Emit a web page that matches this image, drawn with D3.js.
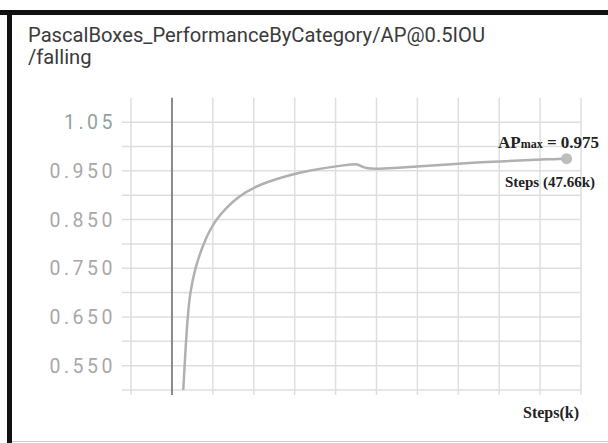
<!DOCTYPE html>
<html><head><meta charset="utf-8">
<script src="https://cdn.jsdelivr.net/npm/d3@7"></script>
<style>html,body{margin:0;padding:0;background:#fff;overflow:hidden;width:608px;height:443px;}svg{display:block;}</style>
</head><body>
<script>
const titleLines = ["PascalBoxes_PerformanceByCategory/AP@0.5IOU", "/falling"];
const stepsK = [1.36, 1.69, 1.90, 2.17, 2.78, 3.78, 5.11, 8.01, 10.83, 14.30, 16.66, 19.48, 21.89, 22.50, 23.30, 26.32, 32.36, 38.40, 46.45, 47.66];
const apValues = [0.500, 0.599, 0.650, 0.699, 0.750, 0.800, 0.849, 0.900, 0.924, 0.942, 0.951, 0.9586, 0.9635, 0.9645, 0.953, 0.955, 0.962, 0.9687, 0.9745, 0.975];
const yTickValues = [1.05, 0.95, 0.85, 0.75, 0.65, 0.55];
const yTickLabels = ["1.05", "0.950", "0.850", "0.750", "0.650", "0.550"];
const yGridValues = [0.5, 0.55, 0.6, 0.65, 0.7, 0.75, 0.8, 0.85, 0.9, 0.95, 1.0, 1.05];
const xGridValues = [-4.95, 0, 4.94, 9.88, 14.82, 19.76, 24.7, 29.64, 34.58, 39.52, 44.46, 49.4];
const maxStep = 47.66, maxAP = 0.975;

const W = 608, H = 443;
const svg = d3.select("body").append("svg").attr("width", W).attr("height", H);

const x = d3.scaleLinear().domain([-4.95, 49.4]).range([131, 581]);
const y = d3.scaleLinear().domain([0.5, 1.1]).range([390, 97.8]);

// frame
svg.append("rect").attr("x", 0).attr("y", 10).attr("width", W).attr("height", 5).attr("fill", "#111");
svg.append("rect").attr("x", 7).attr("y", 10).attr("width", 5).attr("height", H - 10).attr("fill", "#111");
svg.append("line").attr("x1", 12).attr("x2", W).attr("y1", 441.5).attr("y2", 441.5).attr("stroke", "#ccc").attr("stroke-width", 1);

// title
const t = svg.append("text").attr("x", 28).attr("fill", "#3a3a3a")
  .attr("font-family", "Roboto, sans-serif").attr("font-size", 20.2);
t.append("tspan").attr("x", 28).attr("y", 42).text(titleLines[0]);
t.append("tspan").attr("x", 28).attr("y", 64).text(titleLines[1]);

// grid
const g = svg.append("g");
g.selectAll("line.h").data(yGridValues).enter().append("line")
  .attr("x1", 122).attr("x2", x(49.4)).attr("y1", d => y(d)).attr("y2", d => y(d))
  .attr("stroke", "#dedede").attr("stroke-width", 1.5);
g.selectAll("line.v").data(xGridValues).enter().append("line")
  .attr("x1", d => x(d)).attr("x2", d => x(d)).attr("y1", y(1.1)).attr("y2", 395)
  .attr("stroke", d => d === 0 ? "#8a8a8a" : "#dedede").attr("stroke-width", d => d === 0 ? 2 : 1.5);

// y labels
svg.selectAll("text.yl").data(yTickValues).enter().append("text")
  .attr("x", 116).attr("y", d => y(d) + 7).attr("text-anchor", "end")
  .attr("font-family", "Roboto, sans-serif").attr("font-size", 19.5).attr("letter-spacing", 3.5)
  .attr("fill", (d, i) => i === 0 ? "#8fa39b" : "#a8a8a8")
  .text((d, i) => yTickLabels[i]);

// curve
const pts = stepsK.map((s, i) => [s, apValues[i]]);
const line = d3.line().x(d => x(d[0])).y(d => y(d[1])).curve(d3.curveBasis);
svg.append("path").attr("d", line(pts)).attr("fill", "none").attr("stroke", "#b0b0b0").attr("stroke-width", 2.5);
svg.append("circle").attr("cx", x(maxStep)).attr("cy", y(maxAP)).attr("r", 5.5).attr("fill", "#bdbdbd");

// annotations
const serif = "'Liberation Serif', 'Times New Roman', serif";
const a = svg.append("text").attr("x", 498).attr("y", 148).attr("font-family", serif)
  .attr("font-weight", "bold").attr("font-size", 17).attr("fill", "#222");
a.append("tspan").text("AP");
a.append("tspan").attr("font-size", 12).text("max");
a.append("tspan").text(" = " + maxAP.toFixed(3));
svg.append("text").attr("x", 505).attr("y", 187).attr("font-family", serif)
  .attr("font-weight", "bold").attr("font-size", 15).attr("fill", "#222").text("Steps (" + maxStep + "k)");
svg.append("text").attr("x", 523).attr("y", 418).attr("font-family", serif)
  .attr("font-weight", "bold").attr("font-size", 16).attr("fill", "#222").text("Steps(k)");
</script>
</body></html>
